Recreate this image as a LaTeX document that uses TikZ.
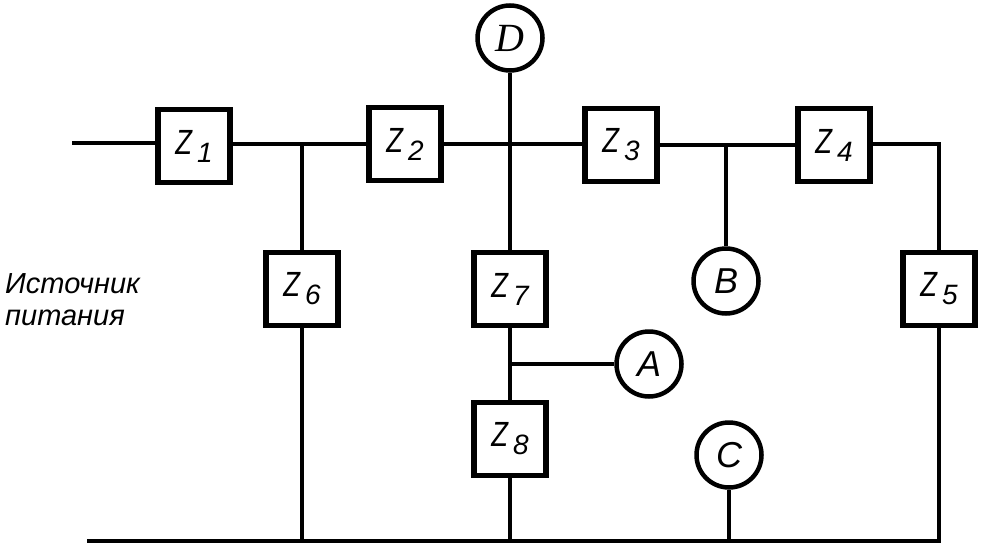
\documentclass[tikz,border=0pt]{standalone}
\usepackage{fontspec}
\setmainfont{Liberation Sans}
\newfontfamily\serifletter{Liberation Serif}
\newcommand{\zname}[1]{\scalebox{.78}[1]{Z}\kern5pt\raisebox{-8pt}{\fontsize{28}{28}\selectfont #1}}
\tikzset{
	wire/.style={line width=4.5pt},
	zbox/.style={draw,line width=5.5pt,minimum width=72pt,minimum height=73pt,inner sep=0pt,font=\fontsize{35}{35}\selectfont\itshape},
	meter/.style={draw,circle,line width=4.5pt,minimum size=65pt,inner sep=0pt,font=\fontsize{36}{36}\selectfont\itshape},
}
\begin{document}
\begin{tikzpicture}[x=1pt,y=-1pt]

	\useasboundingbox (0,0) rectangle (981,546);
	
	\coordinate (in) at (72,143);
	\coordinate (t6) at (302,144);
	\coordinate (t7) at (510,144);
	\coordinate (tB) at (726,145);
	\coordinate (corner) at (939,144);
	\coordinate (g0) at (87,541);
	
	\node[zbox] (z1) at (194,146) {\zname{1}};
	\node[zbox] (z2) at (405,144) {\zname{2}};
	\node[zbox] (z3) at (621,145) {\zname{3}};
	\node[zbox] (z4) at (834,145) {\zname{4}};
	\node[zbox] (z5) at (939,289) {\zname{5}};
	\node[zbox] (z6) at (302,289) {\zname{6}};
	\node[zbox] (z7) at (510,289) {\zname{7}};
	\node[zbox] (z8) at (510,439) {\zname{8}};
	
	\node[meter,font=\fontsize{40}{40}\selectfont\serifletter\itshape] (mD) at (510,38) {D};
	\node[meter] (mB) at (726,281) {B};
	\node[meter] (mA) at (649,364) {A};
	\node[meter] (mC) at (729,455) {C};
	
	\coordinate (tA) at (z7 |- mA);
	\coordinate (g6) at (z6 |- g0);
	\coordinate (g8) at (z8 |- g0);
	\coordinate (gC) at (mC |- g0);
	\coordinate (g5) at (z5 |- g0);
	
	\draw[wire] (in) -- (z1.west |- in);
	\draw[wire] (z1.east |- t6) -- (z2.west |- t6);
	\draw[wire] (z2.east |- t7) -- (z3.west |- t7);
	\draw[wire] (z3.east |- tB) -- (z4.west |- tB);
	\draw[wire] (z4.east |- corner) -- (corner) -- (z5.north);
	\draw[wire] (t6) -- (z6.north);
	\draw[wire] (mD.south) -- (z7.north);
	\draw[wire] (tB) -- (mB.north);
	\draw[wire] (z7.south) -- (z8.north);
	\draw[wire] (tA) -- (mA.west);
	\draw[wire] (z6.south) -- (g6);
	\draw[wire] (z8.south) -- (g8);
	\draw[wire] (mC.south) -- (gC);
	\draw[wire] (z5.south) -- (g5);
	\draw[wire] (g0) -- ([xshift=2.25pt]g5);
	
	\node[align=left,anchor=west,inner sep=0pt,font=\fontsize{29}{32}\selectfont\itshape] (src) at (5,300) {Источник\\питания};

\end{tikzpicture}
\end{document}
